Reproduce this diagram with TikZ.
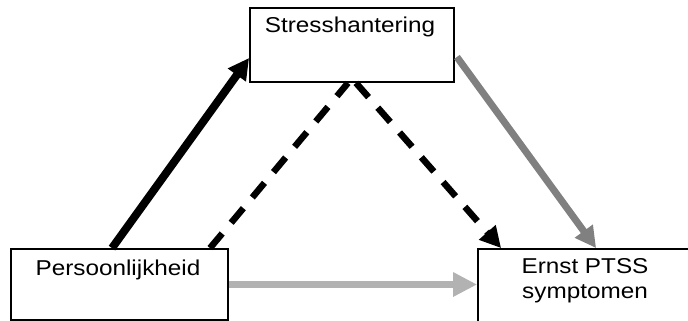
\documentclass[tikz,border=0pt]{standalone}
\usepackage{fontspec}
\setmainfont{Liberation Sans}[FakeStretch=1.13]
\usetikzlibrary{arrows.meta}
\definecolor{midgray}{HTML}{808080}
\definecolor{lightgray2}{HTML}{B2B2B2}
\begin{document}
\begin{tikzpicture}[x=1pt,y=-1pt,
  box/.style={draw=black,line width=1.8pt,fill=white,inner sep=0pt},
  lbl/.style={anchor=base,inner sep=0pt,font=\fontsize{21.5pt}{25pt}\selectfont},
  tip/.style={-{Triangle[length=21pt,width=21pt]}},
  solidblack/.style={tip,draw=black,line width=8pt},
  dashblack/.style={draw=black,line width=6.5pt,dash pattern=on 19pt off 14pt},
  graymid/.style={tip,draw=midgray,line width=7pt},
  graylight/.style={-{Triangle[length=24pt,width=23pt]},draw=lightgray2,line width=6.5pt}]
\useasboundingbox (0,0) rectangle (688,321);
\clip (0,0) rectangle (688,321);
% boxes
\node[box,minimum width=204pt,minimum height=74pt] (s) at (352,45) {};
\node[box,minimum width=217pt,minimum height=71pt] (p) at (119.5,284.5) {};
\node[box,minimum width=222pt,minimum height=80pt] (e) at (589,289) {};
% labels
\node[lbl] (st) at (350,33) {Stresshantering};
\node[lbl] (pt) at (118,275) {Persoonlijkheid};
\node[lbl] (et1) at (585,273) {Ernst PTSS};
\node[lbl] (et2) at (585,298) {symptomen};
% connectors
\draw[solidblack] ([xshift=-7.5pt]p.north) -- ([yshift=-13pt]s.west);
\draw[dashblack] ([xshift=90.5pt]p.north) -- ([xshift=-4pt]s.south);
\draw[dashblack,tip] ([xshift=4pt]s.south) -- ([xshift=24pt]e.north west);
\draw[graymid] ([yshift=-12pt,xshift=2pt]s.east) -- ([xshift=119pt]e.north west);
\draw[graylight] (p.east) -- (p.east -| e.west);
\end{tikzpicture}
\end{document}
